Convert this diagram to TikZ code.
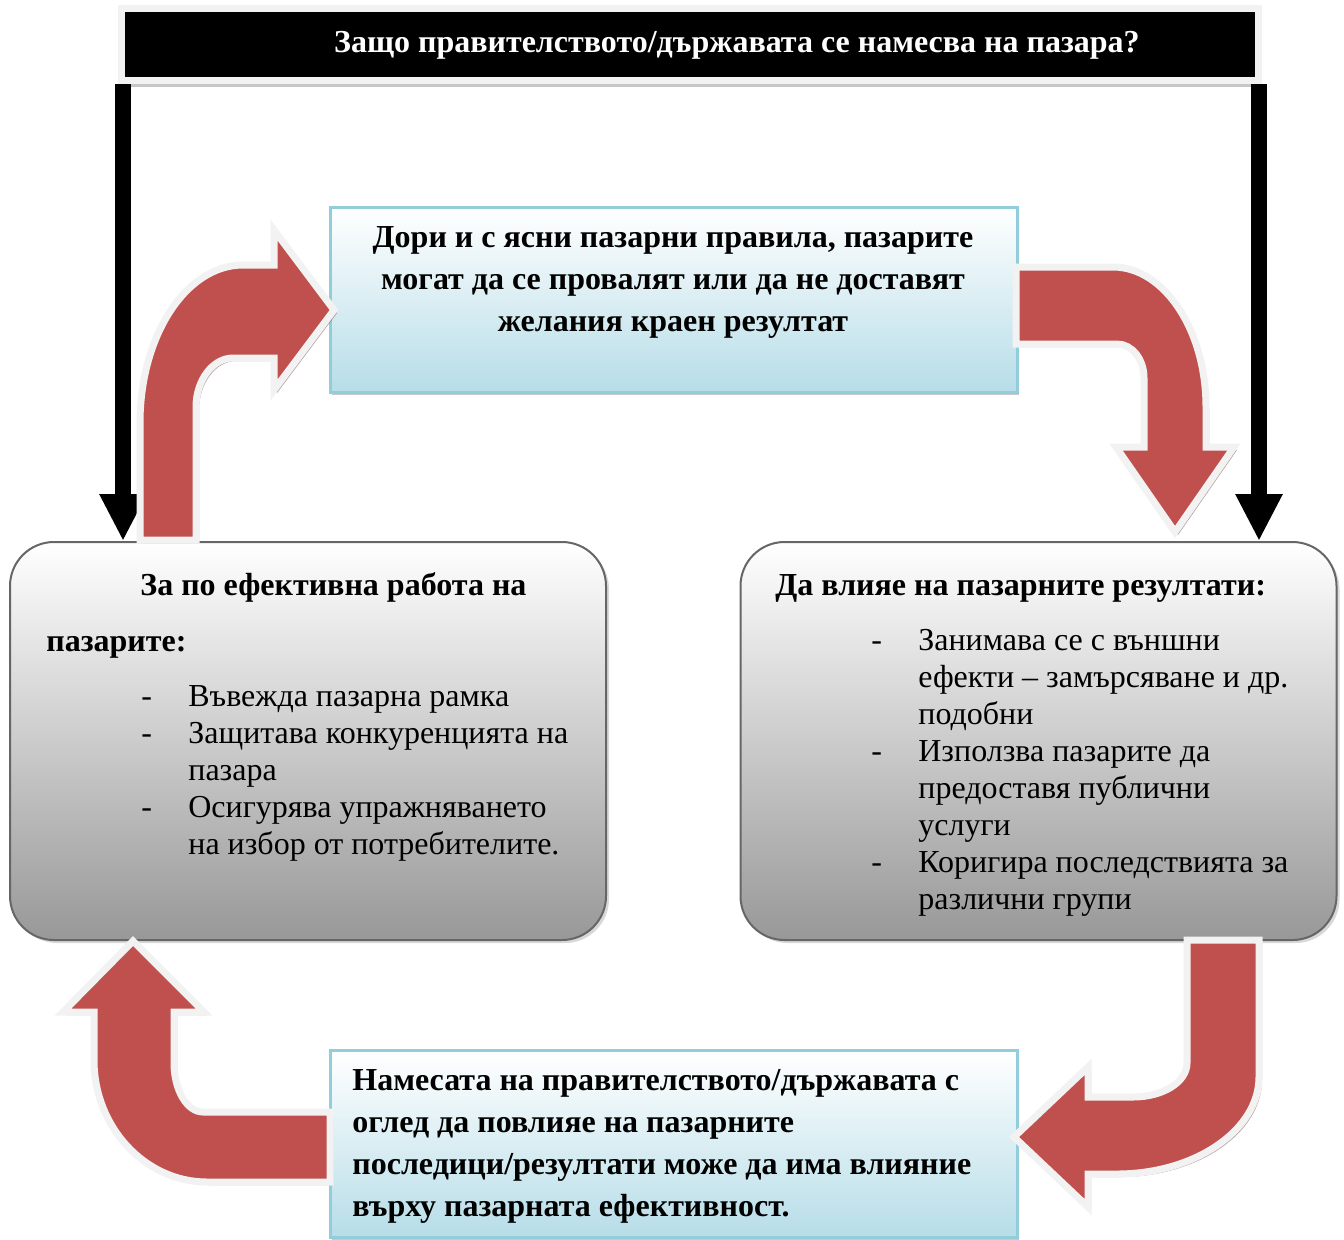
\documentclass[tikz,border=0pt]{standalone}
\usepackage{fontspec}
\setmainfont{Liberation Serif}
\usetikzlibrary{arrows.meta,positioning,shadows}

\definecolor{arrowred}{RGB}{192,80,77}
\definecolor{framegray}{RGB}{242,242,242}
\definecolor{blueedge}{RGB}{146,205,220}
\definecolor{bluefill}{RGB}{183,221,232}
\definecolor{boxedge}{RGB}{102,102,102}
\definecolor{grayfill}{RGB}{152,152,152}

\newcommand{\leadfont}{\bfseries\fontsize{16}{21}\selectfont}
\newcommand{\listfont}{\fontsize{16}{18.5}\selectfont}

\begin{document}
\begin{tikzpicture}[
    x=0.5pt, y=-0.5pt,
    titlebar/.style={rectangle, fill=black, draw=framegray, line width=3.5pt, minimum width=568.5pt, minimum height=36pt, drop shadow={shadow xshift=0pt, shadow yshift=-3pt, fill=gray!55, opacity=0.8}},
    bluebox/.style={rectangle, draw=blueedge, line width=1.5pt, top color=white, bottom color=bluefill, minimum width=343.5pt, drop shadow={shadow xshift=1.2pt, shadow yshift=-1.5pt, fill=gray!60, opacity=0.7}},
    graybox/.style={rectangle, rounded corners=22pt, draw=boxedge, line width=1pt, top color=white, bottom color=grayfill, minimum width=298pt, minimum height=199pt, drop shadow={shadow xshift=1.5pt, shadow yshift=-1.5pt, fill=gray!50, opacity=0.6}},
    redarrow/.style={fill=arrowred, draw=framegray, line width=3.5pt, line join=miter, drop shadow={shadow xshift=1.5pt, shadow yshift=-1.5pt, fill=arrowred!45!black, opacity=0.45}},
    govline/.style={line width=8pt, -{Triangle[length=23.5pt, width=22pt]}},
    lead/.style={inner sep=0pt, font=\leadfont},
    items/.style={inner sep=0pt, font=\listfont}
]

% Page and margins
\fill[white] (0,0) rectangle (1344,1239);
\useasboundingbox (0,0) rectangle (1344,1239);

% Question bar at the top
\node[titlebar] (question) at (690, 44.5) {};
\node[lead, text=white, anchor=base] (questiontext) at (737, 52) {Защо правителството/държавата се намесва на пазара?};

% Boxes
\node[bluebox, minimum height=92.5pt] (failbox) at (673.5, 299.5) {};
\node[bluebox, minimum height=93.5pt] (impactbox) at (673.5, 1143.5) {};
\node[graybox] (workbox) at (308, 741) {};
\node[graybox] (outcomebox) at (1038.5, 741) {};

% Black connectors from the question
\coordinate (qleft) at (123, 84);
\coordinate (qright) at (1259, 84);
\draw[govline] (qleft) -- (qleft |- workbox.north);
\draw[govline] (qright) -- (qright |- outcomebox.north);

% Curved red arrows of the cycle
\draw[redarrow] (140,540) -- (140,423) .. controls (140,336) and (186,265) .. (243,265) -- (274,265) -- (274,230)
    -- (334,310) -- (274,390) -- (274,358) -- (233,358) .. controls (213,358) and (196,380) .. (196,407) -- (196,540) -- cycle;
\draw[redarrow] (1016,267) -- (1113,267) .. controls (1164,267) and (1206,330) .. (1206,407) -- (1206,447) -- (1234,447)
    -- (1175,532) -- (1116,447) -- (1144,447) -- (1144,378) .. controls (1144,359) and (1132,344) .. (1117,344) -- (1016,344) -- cycle;
\draw[redarrow] (1187,940) -- (1259,940) -- (1259,1077) .. controls (1259,1130) and (1195,1174) .. (1117,1174) -- (1088,1174) -- (1088,1207)
    -- (1014,1137) -- (1088,1067) -- (1088,1097) -- (1133,1097) .. controls (1163,1097) and (1187,1082) .. (1187,1063) -- cycle;
\draw[redarrow] (330,1112) -- (203,1112) .. controls (187,1112) and (174,1090) .. (174,1063) -- (174,1012) -- (204,1012)
    -- (133,941) -- (63,1012) -- (94,1012) -- (94,1060) .. controls (94,1127) and (145,1182) .. (207,1182) -- (330,1182) -- cycle;

% Texts of the blue boxes
\node[lead, anchor=base] (failtext) at (673, 247) {\begin{tabular}[t]{@{}c@{}}
Дори и с ясни пазарни правила, пазарите\\
могат да се провалят или да не доставят\\
желания краен резултат
\end{tabular}};
\node[lead, anchor=base west] (impacttext) at (352, 1090) {\begin{tabular}[t]{@{}l@{}}
Намесата на правителството/държавата с\\
оглед да повлияе на пазарните\\
последици/резултати може да има влияние\\
върху пазарната ефективност.
\end{tabular}};

% Texts of the gray boxes
\node[lead, anchor=base west] (workhead) at (140, 595) {За по ефективна работа на};
\node[lead, anchor=base west] (workhead2) at (46, 651) {пазарите:};
\node[items, anchor=base west] (worklist) at (141, 706) {\begin{tabular}[t]{@{}p{23.5pt}@{}l@{}}
-& Въвежда пазарна рамка\\
-& Защитава конкуренцията на\\
 & пазара\\
-& Осигурява упражняването\\
 & на избор от потребителите.
\end{tabular}};

\node[lead, anchor=base west] (outcomehead) at (775, 595) {Да влияе на пазарните резултати:};
\node[items, anchor=base west] (outcomelist) at (871, 650) {\begin{tabular}[t]{@{}p{23.5pt}@{}l@{}}
-& Занимава се с външни\\
 & ефекти – замърсяване и др.\\
 & подобни\\
-& Използва пазарите да\\
 & предоставя публични\\
 & услуги\\
-& Коригира последствията за\\
 & различни групи
\end{tabular}};

\end{tikzpicture}
\end{document}
